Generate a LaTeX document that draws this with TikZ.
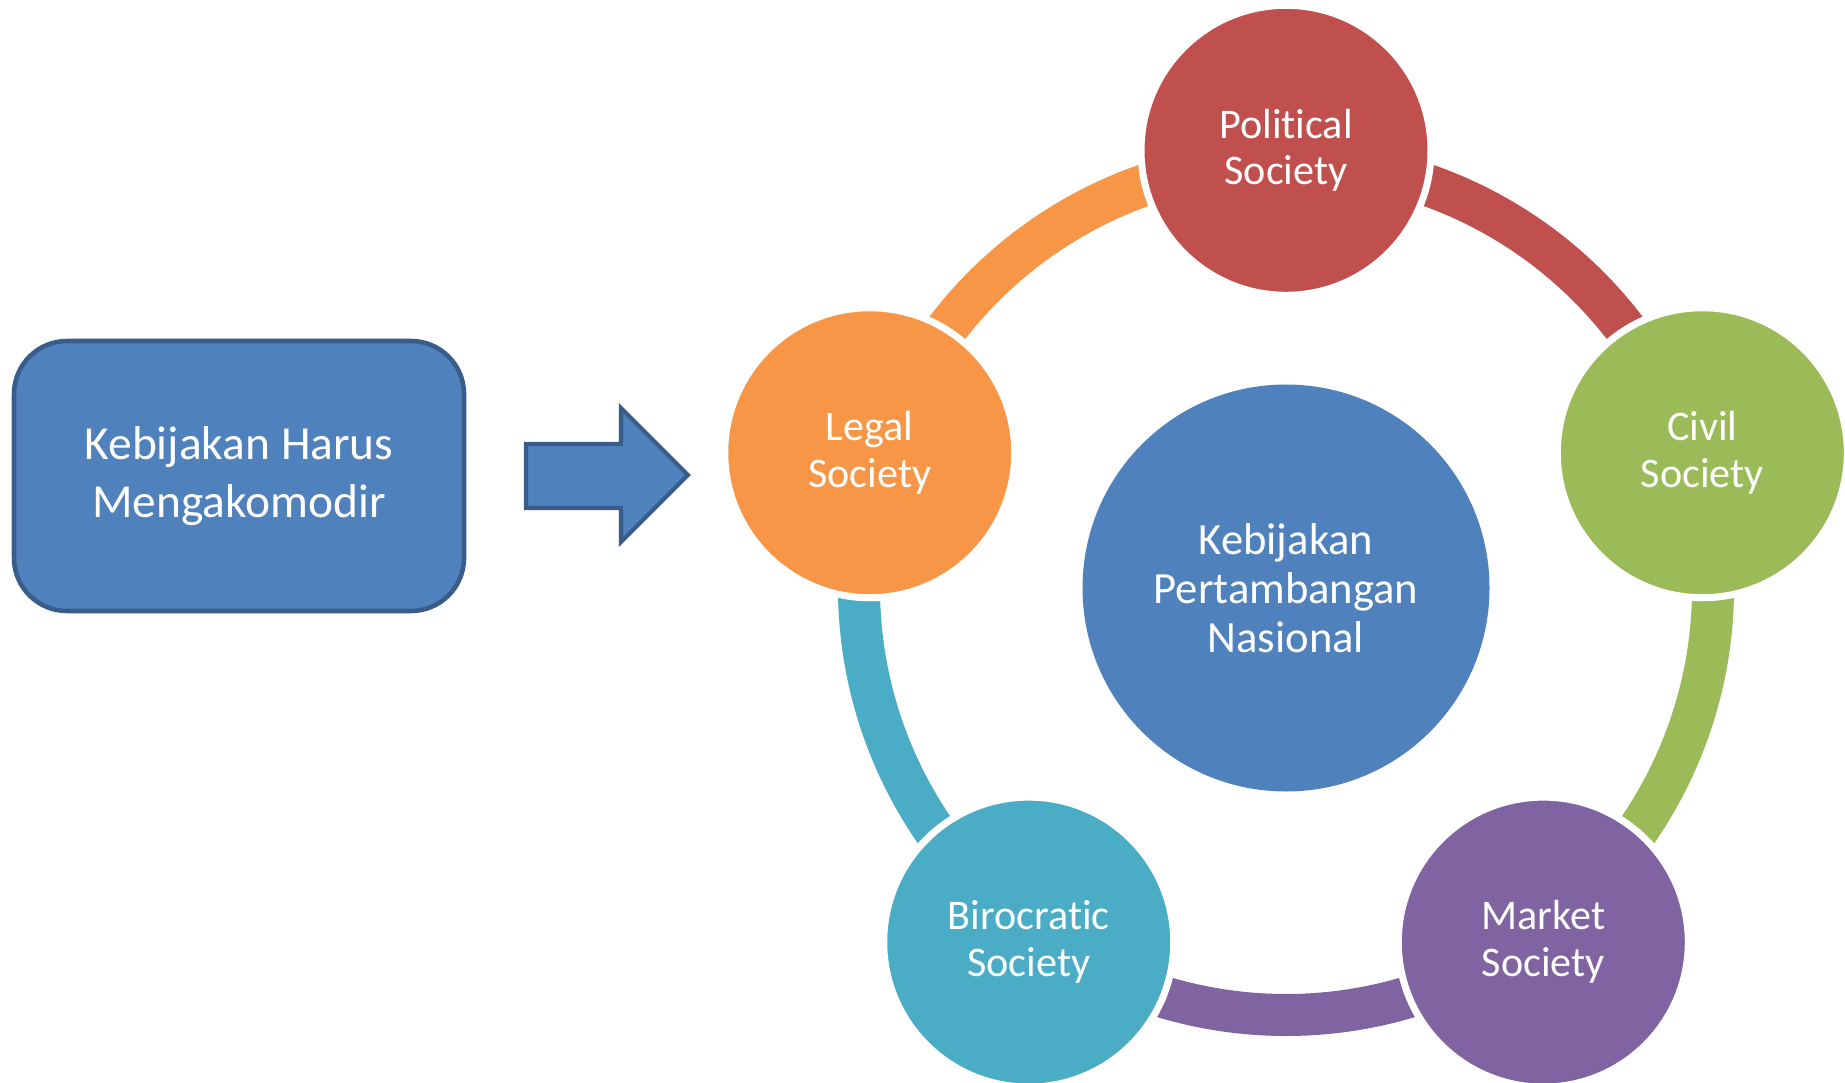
\documentclass[tikz,border=0pt]{standalone}
\usepackage{fontspec}
\setmainfont{Carlito}[Ligatures=NoCommon]

\definecolor{offblue}{HTML}{4F81BD}
\definecolor{offblueline}{HTML}{385D8A}
\definecolor{offred}{HTML}{C0504D}
\definecolor{offgreen}{HTML}{9BBB59}
\definecolor{offpurple}{HTML}{8064A2}
\definecolor{offteal}{HTML}{4BACC6}
\definecolor{offorange}{HTML}{F79646}

\begin{document}
\begin{tikzpicture}[
   society/.style={circle, fill=#1, draw=white, line width=2pt, minimum size=2.9cm,
     inner sep=0pt, text=white, align=center, font=\fontsize{12}{13.3}\selectfont},
   ringarc/.style={line width=0.42cm, draw=#1}]
   \useasboundingbox (0,0) rectangle (18.45,-10.83);
   \coordinate (ctr) at (12.86,-5.88);
   % ring pieces, one per society, clockwise
   \foreach \a/\c in {162/offorange,90/offred,18/offgreen,-54/offpurple,-126/offteal} {
    \draw[ringarc=\c] ([shift={(\a:4.27)}]ctr) arc[start angle=\a, end angle=\a-72, radius=4.27];
   }
   \node[circle, fill=offblue, minimum size=4.07cm, inner sep=0pt, text=white, align=center,
     font=\fontsize{12.7}{14}\selectfont] (policy) at (ctr) {Kebijakan\\Pertambangan\\Nasional};
   \node[society=offred] (political) at ([shift={(90:4.377)}]ctr) {Political\\Society};
   \node[society=offgreen] (civil) at ([shift={(18:4.377)}]ctr) {Civil\\Society};
   \node[society=offpurple] (market) at ([shift={(-54:4.377)}]ctr) {Market\\Society};
   \node[society=offteal] (birocratic) at ([shift={(-126:4.377)}]ctr) {Birocratic\\Society};
   \node[society=offorange] (legal) at ([shift={(162:4.377)}]ctr) {Legal\\Society};
   % left box and block arrow
   \node[draw=offblueline, fill=offblue, line width=1.3pt, rounded corners=0.53cm,
     minimum width=4.5cm, minimum height=2.7cm, text=white, align=center,
     font=\fontsize{13.5}{16.3}\selectfont] (demand) at (2.39,-4.76) {Kebijakan Harus\\Mengakomodir};
   \draw[draw=offblueline, fill=offblue, line width=1.2pt] (5.26,-4.44) -- (6.21,-4.44) -- (6.21,-4.08)
     -- (6.88,-4.75) -- (6.21,-5.42) -- (6.21,-5.08) -- (5.26,-5.08) -- cycle;
  \end{tikzpicture}
\end{document}
